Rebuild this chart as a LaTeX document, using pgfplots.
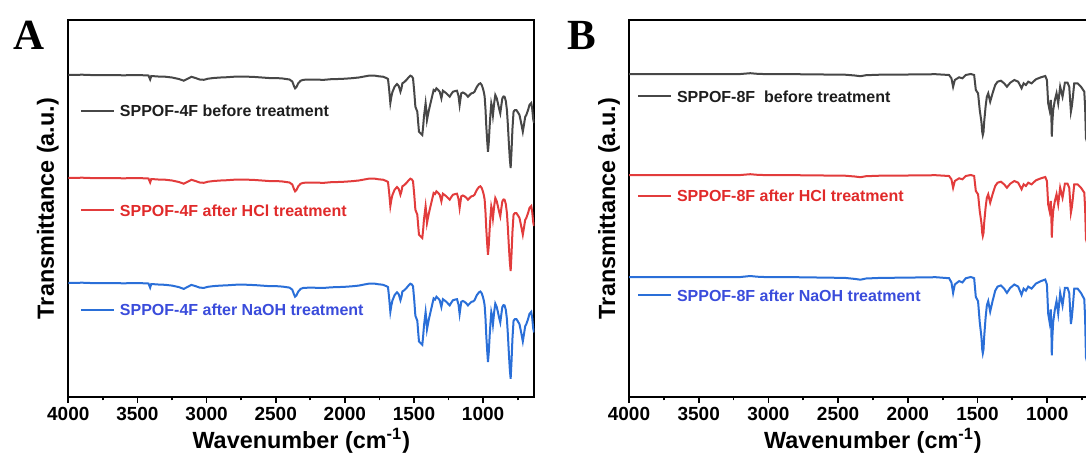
\documentclass[border=0pt]{standalone}
\usepackage{fontspec}
\setmainfont{Liberation Sans}
\newfontfamily\panelfont{Liberation Serif}
\usepackage{pgfplots}
\pgfplotsset{compat=1.18}
\usepackage{pgfplotstable}

\definecolor{cblack}{HTML}{474747}
\definecolor{cred}{HTML}{E23C3C}
\definecolor{cblue}{HTML}{2A6FD8}
\definecolor{tblack}{HTML}{1E1E1E}
\definecolor{tred}{HTML}{E02A2A}
\definecolor{tblue}{HTML}{3A4CDB}

\pgfplotstableread{
wn k r b
4000 322 219 114
3900 322.3 219.3 114.3
3800 321.8 218.8 113.8
3700 322 219 114
3600 321.7 218.7 113.7
3500 322 219 114
3420 321.5 218.5 113.5
3408 317.5 214.5 109.4
3400 321 218 113
3350 320.5 217.5 112.5
3300 320.3 217.3 112.2
3250 319.5 216.5 111.4
3200 318 215 109.9
3165 316.3 213.3 108.1
3140 318 215 109.9
3110 320.2 217.2 112.1
3080 319 216 110.9
3050 317.5 214.5 109.4
3020 317.2 214.2 109.1
2990 318.3 215.3 110.2
2950 319 216 110.9
2900 319.5 216.5 111.4
2850 319.8 216.8 111.7
2800 320.3 217.3 112.2
2750 320.5 217.5 112.5
2700 320.3 217.3 112.2
2650 320 217 111.9
2600 319.5 216.5 111.4
2550 319 216 110.9
2500 319 216 110.9
2450 318.5 215.5 110.4
2400 317.5 214.5 109.4
2380 315.5 212.5 107.3
2368 311 208 102.7
2360 308.7 205.7 100.3
2350 310 207 101.6
2338 313.5 210.5 105.2
2320 316.3 213.3 108.1
2300 317.2 214.2 109.1
2250 317.5 214.5 109.4
2200 317.3 214.3 109.2
2150 317.2 214.2 109.1
2100 317.8 214.8 109.7
2050 318 215 109.9
2000 318.3 215.3 110.2
1950 318.8 215.8 110.7
1900 319.5 216.5 111.4
1860 320.5 217.5 112.5
1820 321.5 218.5 113.5
1790 321.5 218.5 113.5
1760 320.8 217.8 112.8
1740 320.5 217.5 112.5
1724 320.3 217.3 112.2
1700 319 216 110.9
1688 318 215 109.9
1680 308 205 99.6
1671 294 191 85.2
1664 300 197 91.3
1656 305 202 96.5
1640 310.3 207.3 102
1623 313 210 104.7
1610 311 208 102.7
1598 305.3 202.3 96.8
1590 309 206 100.6
1584 313.7 210.7 105.5
1570 315 212 106.8
1555 317 214 108.9
1540 319.5 216.5 111.4
1526 321.3 218.3 113.3
1515 320.5 217.5 112.5
1507 318.7 215.7 110.6
1498 305 202 96.5
1490 290.3 187.3 81.3
1476 285.3 182.3 76.2
1470 275 172 65.6
1464 265.3 162.3 55.6
1452 263.7 160.7 53.9
1440 262 159 52.2
1434 270 167 60.4
1428 280.3 177.3 71
1416 293.7 190.7 84.9
1411 287 184 78
1406 277 174 67.7
1399 282 179 72.8
1392 287 184 78
1375 297 194 88.3
1358 307 204 98.6
1348 306 203 97.5
1338 308.7 205.7 100.3
1325 307 204 98.6
1314 305.3 202.3 96.8
1302 298.7 195.7 90
1291 306.3 203.3 97.8
1278 305 202 96.5
1266 303.7 200.7 95.2
1254 302 199 93.4
1242 300.3 197.3 91.6
1230 303 200 94.4
1218 305.3 202.3 96.8
1200 306 203 97.5
1189 306.3 203.3 97.8
1178 301 198 92.4
1170 292 189 83.1
1164 298 195 89.3
1158 303.7 200.7 95.2
1146 304.5 201.5 96
1134 303.7 200.7 95.2
1120 302 199 93.4
1110 300.3 197.3 91.6
1098 302 199 93.4
1085 303.7 200.7 95.2
1074 304 201 95.5
1062 305.3 202.3 96.8
1053 308 205 99.6
1045 310.3 207.3 102
1030 313 210 104.7
1020 313.7 210.7 105.5
1010 312 209 103.7
1002 308.7 205.7 100.3
995 305 202 96.5
989 300.3 197.3 91.6
983 288 185 79
977 270.3 167.3 60.7
970 255 152 45
965 245.3 142.3 35
959 255 152 45
953 270.3 167.3 60.7
947 283 180 73.8
941 293.7 190.7 84.9
935 290 187 81
929 282 179 72.8
920 294 191 85.2
912 302 199 93.4
902 299 196 90.3
893 293.7 190.7 84.9
884 288 185 79
876 283.7 180.7 74.6
868 292 189 83.1
861 298.7 195.7 90
853 300.5 197.5 91.9
845 300.3 197.3 91.6
836 296 193 87.2
828 287 184 78
821 272 169 62.5
814 254 151 44
807 238 135 27.5
801 229 126 18.2
795 245 142 34.7
788 268 165 58.4
780 285.3 182.3 76.2
770 287 184 78
760 287 184 78
750 285 182 75.9
737 282 179 72.8
725 274 171 64.6
713 265.3 162.3 55.6
705 272 169 62.5
696 280 177 70.7
688 282 179 72.8
675 287 184 78
665 292 189 83.1
652 294 191 85.2
645 288 185 79
638 278 175 68.7
632 274 171 64.6
}\specA

\pgfplotstableread{
wn k r b
4000 323 222 120
3800 323 222 120
3600 322.8 221.8 119.8
3400 323 222 120
3200 323 222 120
3130 323.8 222.8 121
3080 323.2 222.2 120.3
3000 322.8 221.8 119.8
2800 322.8 221.8 119.8
2600 322.5 221.5 119.4
2450 322.3 221.3 119.1
2380 321.5 220.5 118.1
2340 320.8 219.8 117.3
2300 321.8 220.8 118.5
2200 322.3 221.3 119.1
2000 322.5 221.5 119.4
1800 322.8 221.8 119.8
1704 322 221 118.8
1687 318.7 217.7 114.6
1675 310.3 209.3 104.1
1663 317 216 112.5
1632 319.7 218.7 115.9
1608 318.7 217.7 114.6
1584 322 221 118.8
1548 323 222 120
1524 322 221 118.8
1512 307 206 100
1496 303.7 202.7 95.9
1484 287 186 75
1472 275.3 174.3 60.4
1466 265 164 47.5
1462 262 161 43.8
1457 265 164 47.5
1452 275.3 174.3 60.4
1442 290.3 189.3 79.1
1433 300.3 199.3 91.6
1423 303.7 202.7 95.9
1409 295.3 194.3 85.4
1392 303.7 202.7 95.9
1373 312 211 106.3
1356 315.3 214.3 110.4
1332 316.3 215.3 111.6
1309 313.7 212.7 108.4
1289 310.3 209.3 104.1
1265 314.3 213.3 109.1
1236 317 216 112.5
1208 315.3 214.3 110.4
1184 308.7 207.7 102.1
1169 313.7 212.7 108.4
1153 312 211 106.3
1136 315.3 214.3 110.4
1112 313.7 212.7 108.4
1081 317.7 216.7 113.4
1045 319.7 218.7 115.9
1014 321 220 117.5
1002 317 216 112.5
993 293.7 192.7 83.4
983 287 186 75
974 297 196 87.5
970 280 179 66.3
967 260.3 159.3 41.6
963 275 174 60
957 287 186 75
945 297 196 87.5
933 303.7 202.7 95.9
921 293.7 192.7 83.4
907 310.3 209.3 104.1
890 300.3 199.3 91.6
873 314.3 213.3 109.1
854 314.3 213.3 109.1
842 310.3 209.3 104.1
836 298 197 88.8
830 285.3 184.3 72.9
824 290 189 78.8
818 297 196 87.5
806 313.7 212.7 108.4
782 313.7 212.7 108.4
758 310.3 209.3 104.1
734 305.3 204.3 97.9
728 290 189 78.8
722 258.7 157.7 39.6
716 256 155 36.3
705 262 161 43.8
}\specB

\pgfplotsset{ftir/.style={
  scale only axis, x dir=reverse, xmax=4000, ymin=0, ymax=377,
  axis line style={line width=1pt, black},
  xtick={1000,1500,2000,2500,3000,3500,4000},
  minor xtick={750,1250,1750,2250,2750,3250,3750},
  xtick pos=bottom, ytick=\empty, tick align=outside,
  major tick length=3pt, minor tick length=1.7pt,
  every tick/.style={line width=0.9pt, black},
  /pgf/number format/assume math mode=true,
  /pgf/number format/1000 sep={},
  xticklabel style={font=\bfseries\fontsize{9.5}{10}\selectfont, inner sep=2pt},
  xlabel={Wavenumber (cm\textsuperscript{-1})},
  ylabel={Transmittance (a.u.)},
  every axis x label/.style={at={(axis description cs:0.5,0)}, anchor=center, yshift=-22pt,
    font=\bfseries\fontsize{11.7}{13}\selectfont},
  legend cell align=left,
  legend image code/.code={\draw[#1] (0pt,0pt) -- (16.5pt,0pt);},
  legend style={draw=none, fill=none, inner sep=0pt, outer sep=0pt, row sep=41.8pt,
    font=\bfseries\fontsize{8}{9.6}\selectfont,
    nodes={inner sep=1pt, text height=5.9pt, text depth=0pt},
    /tikz/every odd column/.style={column sep=1.5pt}},
}}

\begin{document}
\begin{tikzpicture}
\begin{axis}[ftir, at={(34.15pt,30pt)}, anchor=south west,
  width=233pt, height=188.5pt, xmin=630,
  every axis y label/.style={at={(axis description cs:-0.044,0.5)}, rotate=90, anchor=center,
    font=\bfseries\fontsize{11.7}{13}\selectfont},
  legend style={at={(axis description cs:0.025,0.78)}, anchor=north west}]
\addplot[cblack, line width=1pt] table[x=wn, y=k] {\specA};
\addlegendentry{\textcolor{tblack}{SPPOF-4F before treatment}}
\addplot[cred, line width=1pt] table[x=wn, y=r] {\specA};
\addlegendentry{\textcolor{tred}{SPPOF-4F after HCl treatment}}
\addplot[cblue, line width=1pt] table[x=wn, y=b] {\specA};
\addlegendentry{\textcolor{tblue}{SPPOF-4F after NaOH treatment}}
\end{axis}
\begin{axis}[ftir, at={(314.5pt,30pt)}, anchor=south west,
  width=243.95pt, height=188.5pt, xmin=500,
  every axis y label/.style={at={(axis description cs:-0.041,0.5)}, rotate=90, anchor=center,
    font=\bfseries\fontsize{11.7}{13}\selectfont},
  legend style={at={(axis description cs:0.0164,0.8185)}, anchor=north west}]
\addplot[cblack, line width=1pt] table[x=wn, y=k] {\specB};
\addlegendentry{\textcolor{tblack}{SPPOF-8F\ \ before treatment}}
\addplot[cred, line width=1pt] table[x=wn, y=r] {\specB};
\addlegendentry{\textcolor{tred}{SPPOF-8F after HCl treatment}}
\addplot[cblue, line width=1pt] table[x=wn, y=b] {\specB};
\addlegendentry{\textcolor{tblue}{SPPOF-8F after NaOH treatment}}
\end{axis}
\node[anchor=base west, inner sep=0pt, font=\panelfont\bfseries\fontsize{21.5}{25}\selectfont] at (6.5pt,204pt) {A};
\node[anchor=base west, inner sep=0pt, font=\panelfont\bfseries\fontsize{21.5}{25}\selectfont] at (283.5pt,204pt) {B};
\pgfresetboundingbox
\path[use as bounding box] (0,0) rectangle (543pt,228.5pt);
\end{tikzpicture}
\end{document}
